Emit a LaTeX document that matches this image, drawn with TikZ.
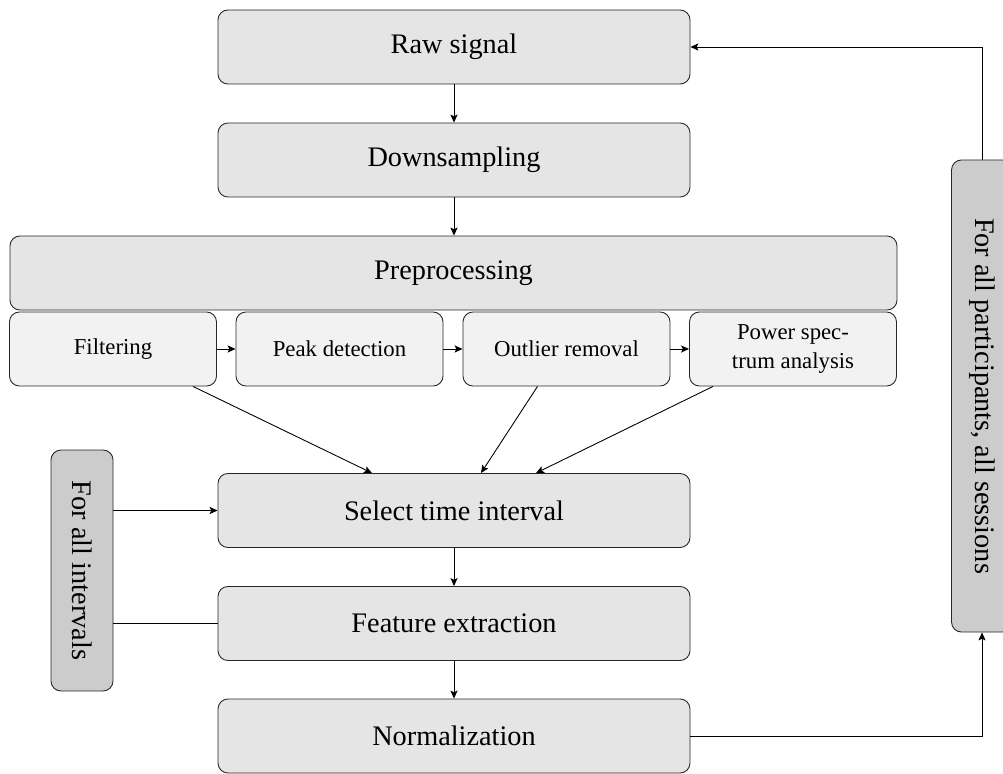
\documentclass[tikz,border=0pt]{standalone}
\usepackage{fontspec}
\setmainfont{Liberation Serif}
\usetikzlibrary{arrows.meta,calc}
\definecolor{stagegray}{RGB}{229,229,229}
\definecolor{subgray}{RGB}{242,242,242}
\definecolor{loopgray}{RGB}{204,204,204}
\newcommand{\pxu}{0.0159cm}
\tikzset{
  stage/.style={draw=black!85,fill=stagegray,rounded corners=4.5pt,
    minimum width=472*\pxu,minimum height=74*\pxu,inner sep=2pt,
    font=\fontsize{12.8}{15}\selectfont},
  substage/.style={stage,fill=subgray,minimum width=207*\pxu,align=center,
    font=\fontsize{10.3}{13.5}\selectfont},
  loopbox/.style={stage,fill=loopgray,rotate=-90,minimum height=62*\pxu},
  flow/.style={-{Stealth[length=3.6pt,width=3.2pt,inset=0.8pt]}},
}

\begin{document}
\begin{tikzpicture}[x=\pxu,y=-\pxu]
\useasboundingbox (0,0) rectangle (1003,774);
% pipeline
\node[stage] (raw) at (454,47) {Raw signal};
\node[stage] (down) at (454,160) {Downsampling};
\node[stage,minimum width=887*\pxu] (pre) at (453.5,273) {Preprocessing};
\node[substage] (filt) at (113,349) {Filtering};
\node[substage] (peak) at (339.5,349) {Peak detection};
\node[substage] (outl) at (566.5,349) {Outlier removal};
\node[substage] (psa) at (793,349) {Power spec-\\trum analysis};
\node[stage] (sel) at (454,510.5) {Select time interval};
\node[stage] (feat) at (454,623.5) {Feature extraction};
\node[stage] (norm) at (454,736) {Normalization};
% loops
\node[loopbox,minimum width=241*\pxu] (intv) at (82,570.5) {For all intervals};
\node[loopbox,minimum height=61*\pxu] (part) at (982,396) {For all participants, all sessions};
% arrows
\draw[flow] (raw) -- (down);
\draw[flow] (down.south) -- (down.south |- pre.north);
\draw[flow] (filt) -- (peak);
\draw[flow] (peak) -- (outl);
\draw[flow] (outl) -- (psa);
\draw[flow] ($(filt.south)+(80,0)$) -- ($(sel.north)+(-82,0)$);
\draw[flow] ($(outl.south)+(-29,0)$) -- ($(sel.north)+(27,0)$);
\draw[flow] ($(psa.south)+(-80,0)$) -- ($(sel.north)+(82,0)$);
\draw[flow] (sel) -- (feat);
\draw[flow] (feat) -- (norm);
\draw[flow] (intv.north |- sel.west) -- (sel.west);
\draw (intv.north |- feat.west) -- (feat.west);
\draw[flow] (norm.east) -| (part.east);
\draw[flow] (part.west) |- (raw.east);
\end{tikzpicture}
\end{document}
